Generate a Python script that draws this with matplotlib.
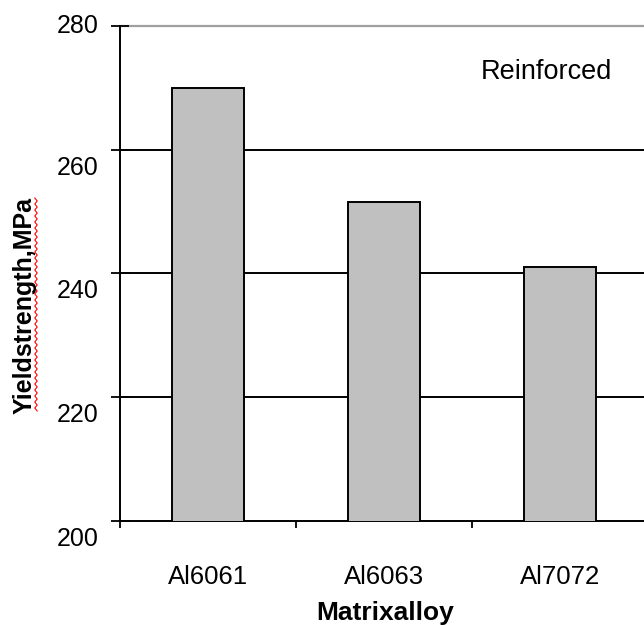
import matplotlib
matplotlib.use("Agg")
import matplotlib.pyplot as plt
import matplotlib.transforms as mtransforms
import numpy as np

alloys = ["Al6061", "Al6063", "Al7072"]
yield_strength = [270, 251.5, 241]
y_ticks = [200, 220, 240, 260, 280]

plt.rcParams['font.family'] = ['Liberation Sans', 'DejaVu Sans']

W, H = 644, 625
fig = plt.figure(figsize=(W / 100, H / 100), dpi=100)
ax = fig.add_axes([120 / W, 1 - 520.7 / H, 528 / W, 494.7 / H])

x = np.arange(len(alloys))
ax.bar(x, yield_strength, width=0.41, color="#c0c0c0", edgecolor="black",
       linewidth=1.4, zorder=3)

ax.set_xlim(-0.5, 2.5)
ax.set_ylim(200, 280)

# horizontal gridlines, top one lighter
for v in y_ticks[1:-1]:
    ax.axhline(v, color="black", lw=1.4, zorder=1)
ax.axhline(280, color="#a0a0a0", lw=1.6, zorder=1, clip_on=False)

ax.set_yticks(y_ticks)
ax.set_yticklabels([])
ax.tick_params(axis="y", direction="inout", length=13, width=1.3)

# value labels sit a little below their ticks, except the top one
ylab_tf = mtransforms.blended_transform_factory(fig.dpi_scale_trans, ax.transData)
for v in y_ticks:
    drop = 0 if v == 280 else 18
    tf = mtransforms.offset_copy(ylab_tf, fig=fig, y=-drop, units="dots")
    ax.text(99 / 100, v, str(v), transform=tf, fontsize=18, ha="right",
            va="center", clip_on=False)

ax.set_xticks(x)
ax.set_xticklabels(alloys)
ax.tick_params(axis="x", which="major", length=0, labelsize=18.5, pad=32)
ax.set_xticks(np.arange(-0.5, 3, 1), minor=True)
ax.tick_params(axis="x", which="minor", direction="out", length=5, width=1.3)

for s in ["top", "right"]:
    ax.spines[s].set_visible(False)
ax.spines["left"].set_linewidth(1.4)
ax.spines["bottom"].set_linewidth(1.4)

fig.text(385 / W, 1 - 620 / H, "Matrixalloy", fontsize=19, fontweight="bold",
         ha="center", va="baseline")
fig.text(25 / W, 1 - 305 / H, "Yieldstrength,MPa", fontsize=18,
         fontweight="bold", rotation=90, ha="center", va="center")
fig.text(546 / W, 1 - 72 / H, "Reinforced", fontsize=19.5, ha="center",
         va="center")

# spell-check squiggle beside the y label
ys = np.arange(198, 414, 3)
xs = 36 + np.where(np.arange(len(ys)) % 2 == 0, -1.2, 1.2)
fig.add_artist(plt.Line2D(xs / W, 1 - ys / H, color="red", lw=0.8,
                          transform=fig.transFigure))

fig.savefig("out.png", dpi=100)
